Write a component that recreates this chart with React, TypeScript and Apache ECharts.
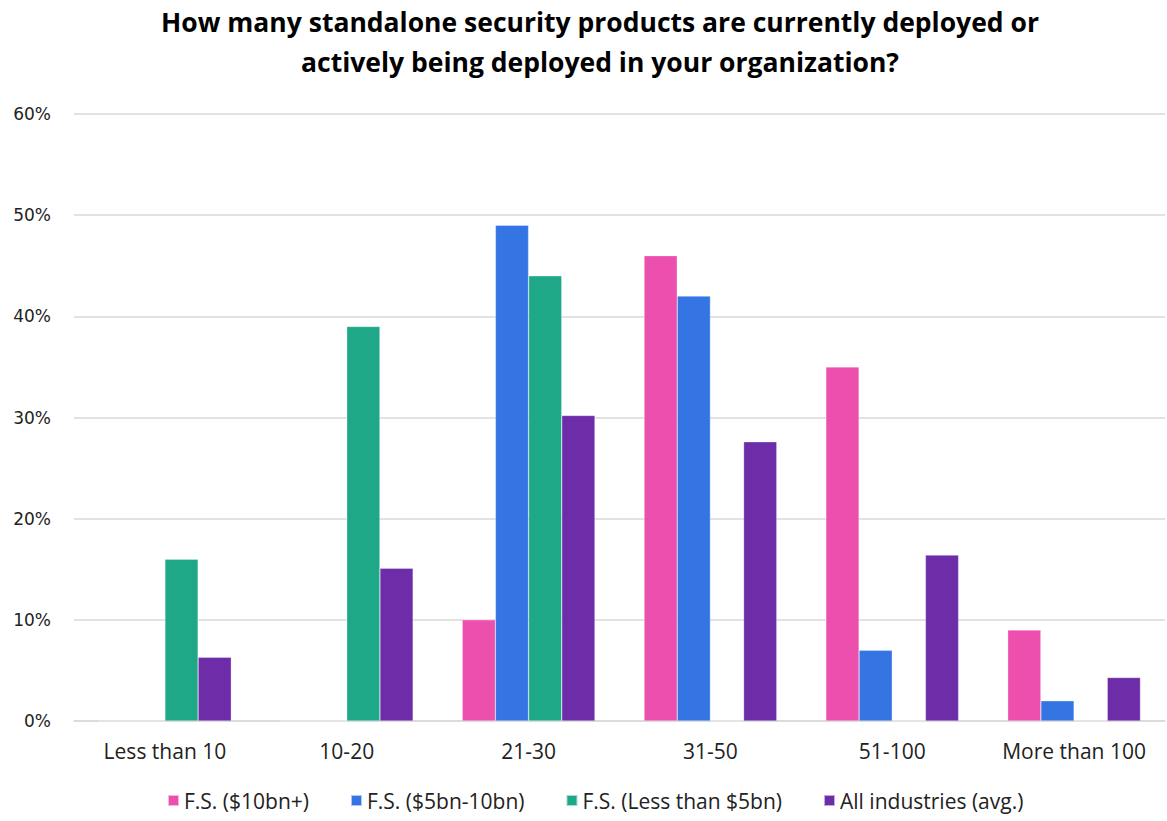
import React, { useEffect, useRef } from "react";
import * as echarts from "echarts";

const categories = ["Less than 10", "10-20", "21-30", "31-50", "51-100", "More than 100"];
const seriesNames = ["F.S. ($10bn+)", "F.S. ($5bn-10bn)", "F.S. (Less than $5bn)", "All industries (avg.)"];
const fsLarge = [0, 0, 10, 46, 35, 9];
const fsMid = [0, 0, 49, 42, 7, 2];
const fsSmall = [16, 39, 44, 0, 0, 0];
const allIndustries = [6.3, 15.1, 30.2, 27.6, 16.4, 4.3];
const colors = ["#EC4FAE", "#3574E3", "#1EA887", "#6D2CA8"];
const titleLines = [
  "How many standalone security products are currently deployed or",
  "actively being deployed in your organization?",
];

export default function App() {
  const ref = useRef<HTMLDivElement>(null);
  useEffect(() => {
    document.body.style.margin = "0";
    const chart = echarts.init(ref.current!, null, { renderer: "svg" });
    const values = [fsLarge, fsMid, fsSmall, allIndustries];
    chart.setOption({
      animation: false,
      backgroundColor: "#ffffff",
      title: {
        text: titleLines.join("\n"),
        left: 595,
        textAlign: "center",
        top: -3,
        textStyle: {
          fontFamily: "Open Sans",
          fontWeight: "bold",
          fontSize: 26.5,
          lineHeight: 40,
          color: "#000000",
        },
      },
      legend: {
        data: seriesNames,
        bottom: 5,
        left: 162,
        itemWidth: 11,
        itemHeight: 11,
        itemGap: 41,
        icon: "rect",
        textStyle: { fontFamily: "Open Sans", fontSize: 21, color: "#222222" },
      },
      grid: { left: 74, right: 2, top: 114, bottom: 100, containLabel: false },
      xAxis: {
        type: "category",
        data: categories,
        axisLine: { show: true, lineStyle: { color: "#d9d9d9", width: 1.5 } },
        axisTick: { show: false },
        axisLabel: {
          interval: 0,
          hideOverlap: false,
          margin: 19,
          fontFamily: "Open Sans",
          fontSize: 21,
          color: "#222222",
        },
      },
      yAxis: {
        type: "value",
        min: 0,
        max: 60,
        interval: 10,
        axisLine: { show: false },
        axisTick: { show: false },
        splitLine: { lineStyle: { color: "#d9d9d9", width: 1.5 } },
        axisLabel: {
          formatter: "{value}%",
          margin: 23,
          fontFamily: "DejaVu Sans",
          fontSize: 17,
          color: "#222222",
        },
      },
      series: seriesNames.map((name, i) => ({
        name,
        type: "bar",
        data: values[i],
        barGap: "0%",
        barCategoryGap: "27%",
        itemStyle: { color: colors[i], borderColor: "rgba(255,255,255,0.6)", borderWidth: 0.5 },
      })),
    });
    return () => chart.dispose();
  }, []);
  return <div ref={ref} style={{ width: 1167, height: 821 }} />;
}
